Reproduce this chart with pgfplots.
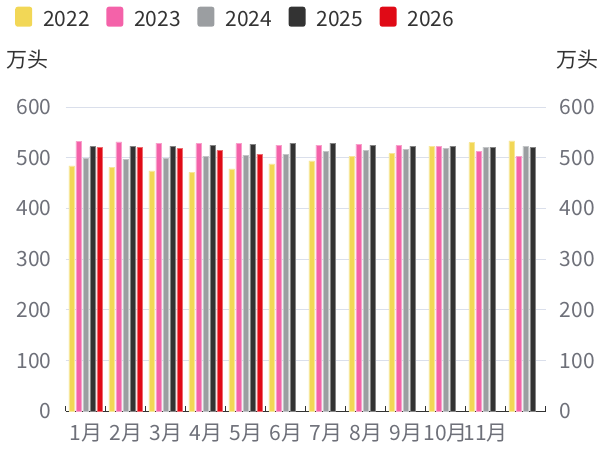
\documentclass[border=0pt]{standalone}
\usepackage{fontspec}
\setmainfont{Noto Sans CJK SC}
\usepackage{pgfplots}
\usepackage{pgfplotstable}
\pgfplotsset{compat=1.18}
\definecolor{c22}{HTML}{F2D756}
\definecolor{c23}{HTML}{F462A9}
\definecolor{c24}{HTML}{9B9EA1}
\definecolor{c25}{HTML}{333333}
\definecolor{c26}{HTML}{E00A16}
\definecolor{tickc}{HTML}{6E7079}
\definecolor{gridc}{HTML}{DADFEB}
\definecolor{txtc}{HTML}{333333}
\pgfplotstableread{
x y22 y23 y24 y25
0 484 532 499 522
1 481 531 497 523
2 474 529 499 523
3 471 528 503 525
4 478 528 505 527
5 488 525 507 529
6 494 525 512 529
7 502 527 514 525
8 508 524 517 523
9 523 522 519 523
10 530 512 521 521
11 533 502 523 520
}\data
\begin{document}
\begin{tikzpicture}
\pgfplotsset{
  common/.style={
    scale only axis, width=480pt, height=304.3pt,
    xmin=0, xmax=12, ymin=0, ymax=600,
    ytick={0,100,...,600},
    /pgf/number format/assume math mode=true,
    y tick label style={font=\fontsize{21}{24}\selectfont, color=tickc, inner sep=0pt},
    ytick style={draw=none},
    y axis line style={draw=none},
  },
}
\begin{axis}[common,
  axis x line*=bottom, axis y line*=left,
  x axis line style={draw=txtc, line width=1pt, -},
  ymajorgrids, grid style={color=gridc, line width=1pt},
  ticklabel shift=0pt,
  yticklabel style={xshift=-14pt},
  xtick={0.5,1.5,...,10.5},
  xticklabels={1月,2月,3月,4月,5月,6月,7月,8月,9月,10月,11月},
  x tick label style={font=\fontsize{21}{24}\selectfont, color=tickc, inner sep=0pt, yshift=-12pt},
  major x tick style={draw=none},
  minor xtick={0,1,...,12},
  minor x tick style={draw=txtc, line width=1pt},
  minor tick length=5pt,
  tick align=inside,
  legend columns=5,
  legend style={at={(-0.1056,1.292)}, anchor=west, draw=none, fill=none,
    font=\fontsize{21}{24}\selectfont, text=txtc, inner sep=0pt,
    /tikz/every odd column/.append style={column sep=9pt},
    /tikz/every even column/.append style={column sep=14.5pt}},
  legend image code/.code={\fill[#1, draw=none, rounded corners=2.5pt] (0pt,-7.5pt) rectangle (17pt,12.5pt);},
  clip=false,
]
\coordinate (O) at (rel axis cs:0,0);
\addplot[ybar, bar width=0.1425, bar shift=-0.35, fill=c22, draw=c22!60!white, line width=0.5pt] table[x expr=\thisrow{x}+0.5, y=y22]{\data};
\addlegendentry{2022}
\addplot[ybar, bar width=0.1425, bar shift=-0.175, fill=c23, draw=c23!60!white, line width=0.5pt] table[x expr=\thisrow{x}+0.5, y=y23]{\data};
\addlegendentry{2023}
\addplot[ybar, bar width=0.1425, bar shift=0, fill=c24, draw=c24!60!white, line width=0.5pt] table[x expr=\thisrow{x}+0.5, y=y24]{\data};
\addlegendentry{2024}
\addplot[ybar, bar width=0.1425, bar shift=0.175, fill=c25, draw=c25!60!white, line width=0.5pt] table[x expr=\thisrow{x}+0.5, y=y25]{\data};
\addlegendentry{2025}
\addplot[ybar, bar width=0.1425, bar shift=0.35, fill=c26, draw=c26!60!white, line width=0.5pt] coordinates {(0.5,520) (1.5,520) (2.5,518) (3.5,514) (4.5,507)};
\addlegendentry{2026}
\node[font=\fontsize{21}{24}\selectfont, text=txtc] at (rel axis cs:-0.0806,1.1545) {万头};
\node[font=\fontsize{21}{24}\selectfont, text=txtc] at (rel axis cs:1.0652,1.1545) {万头};
\end{axis}
\begin{axis}[common,
  axis y line*=right, axis x line=none,
  yticklabel style={xshift=14pt},
  ticklabel shift=0pt,
]
\end{axis}
\pgfresetboundingbox
\path (O) ++(-65.7pt,-41.7pt) rectangle ++(604pt,453pt);
\end{tikzpicture}
\end{document}
